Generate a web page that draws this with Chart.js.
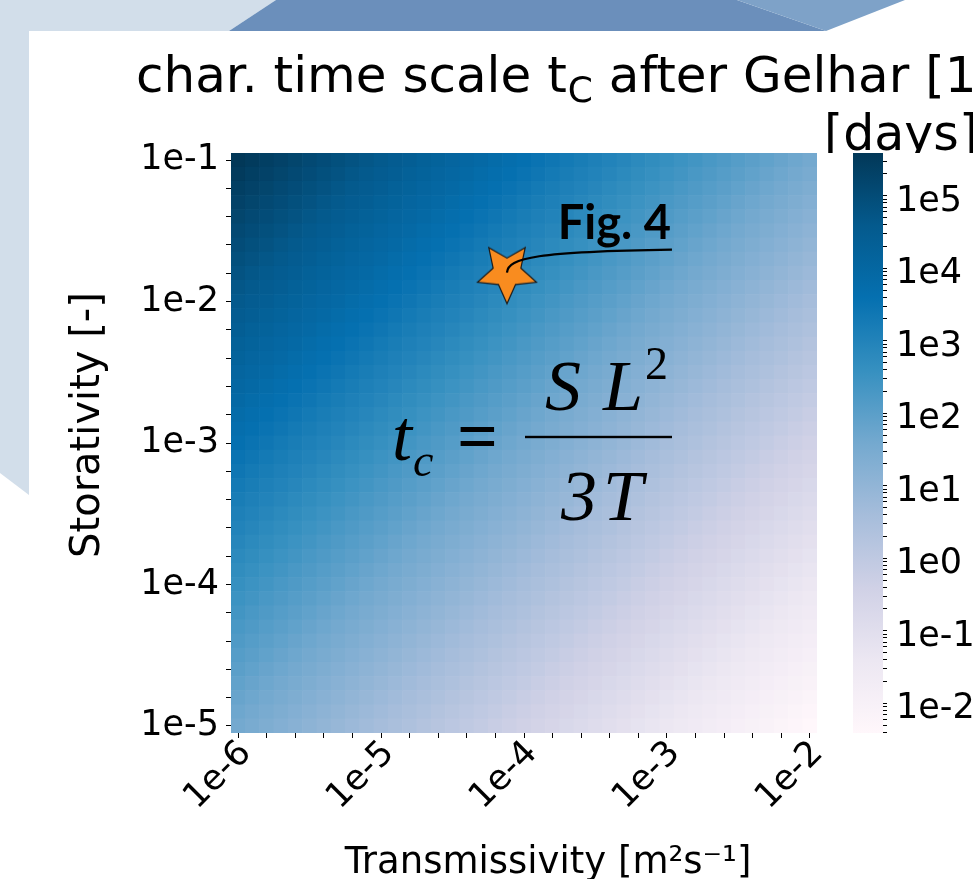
<!DOCTYPE html>
<html>
<head>
<meta charset="utf-8">
<title>char. time scale after Gelhar</title>
<script src="https://cdn.jsdelivr.net/npm/chart.js@4.4.1/dist/chart.umd.min.js"></script>
<style>
  html, body { margin: 0; padding: 0; background: #ffffff; overflow: hidden; }
  #plot { display: block; }
</style>
</head>
<body>
<canvas id="plot" width="973" height="879" style="width:973px;height:879px"></canvas>
<script>
// log10 of transmissivity T [m^2/s] at the column centres
const transmissivityExp = [
  -6.0, -5.9, -5.8, -5.7, -5.6, -5.5, -5.4, -5.3, -5.2, -5.1,
  -5.0, -4.9, -4.8, -4.7, -4.6, -4.5, -4.4, -4.3, -4.2, -4.1,
  -4.0, -3.9, -3.8, -3.7, -3.6, -3.5, -3.4, -3.3, -3.2, -3.1,
  -3.0, -2.9, -2.8, -2.7, -2.6, -2.5, -2.4, -2.3, -2.2, -2.1,
  -2.0
];

// log10 of storativity S [-] at the row centres
const storativityExp = [
  -5.0, -4.9, -4.8, -4.7, -4.6, -4.5, -4.4, -4.3, -4.2, -4.1,
  -4.0, -3.9, -3.8, -3.7, -3.6, -3.5, -3.4, -3.3, -3.2, -3.1,
  -3.0, -2.9, -2.8, -2.7, -2.6, -2.5, -2.4, -2.3, -2.2, -2.1,
  -2.0, -1.9, -1.8, -1.7, -1.6, -1.5, -1.4, -1.3, -1.2, -1.1,
  -1.0
];

// log10 of t_c [days]; S and T share the same 0.1-decade step, so the grid
// holds one level per anti-diagonal, starting at the top-left cell
const tcLogLevels = [
   5.59,  5.49,  5.39,  5.29,  5.19,  5.09,  4.99,  4.89,  4.79,  4.69,
   4.59,  4.49,  4.39,  4.29,  4.19,  4.09,  3.99,  3.89,  3.79,  3.69,
   3.59,  3.49,  3.39,  3.29,  3.19,  3.09,  2.99,  2.89,  2.79,  2.69,
   2.59,  2.49,  2.39,  2.29,  2.19,  2.09,  1.99,  1.89,  1.79,  1.69,
   1.59,  1.49,  1.39,  1.29,  1.19,  1.09,  0.99,  0.89,  0.79,  0.69,
   0.59,  0.49,  0.39,  0.29,  0.19,  0.09, -0.01, -0.11, -0.21, -0.31,
  -0.41, -0.51, -0.61, -0.71, -0.81, -0.91, -1.01, -1.11, -1.21, -1.31,
  -1.41, -1.51, -1.61, -1.71, -1.81, -1.91, -2.01, -2.11, -2.21, -2.31,
  -2.41
];

// axis ticks (log10 exponents) and their labels
const xTickExp = [-6.0, -5.8, -5.6, -5.4, -5.2, -5.0, -4.8, -4.6, -4.4, -4.2, -4.0,
                  -3.8, -3.6, -3.4, -3.2, -3.0, -2.8, -2.6, -2.4, -2.2, -2.0];
const xTickLabels = ['1e-6', '', '', '', '', '1e-5', '', '', '', '', '1e-4',
                     '', '', '', '', '1e-3', '', '', '', '', '1e-2'];
const yTickExp = [-5.0, -4.8, -4.6, -4.4, -4.2, -4.0, -3.8, -3.6, -3.4, -3.2, -3.0,
                  -2.8, -2.6, -2.4, -2.2, -2.0, -1.8, -1.6, -1.4, -1.2, -1.0];
const yTickLabels = ['1e-5', '', '', '', '', '1e-4', '', '', '', '', '1e-3',
                     '', '', '', '', '1e-2', '', '', '', '', '1e-1'];

// colour bar decades [days]
const cbDecades = [1e-2, 1e-1, 1e0, 1e1, 1e2, 1e3, 1e4, 1e5];
const cbDecadeLabels = ['1e-2', '1e-1', '1e0', '1e1', '1e2', '1e3', '1e4', '1e5'];

// highlighted site
const markerT = 7.6e-5;
const markerS = 1.6e-2;
const markerLabel = 'Fig. 4';

// ---- colour map (PuBu) ----
const PUBU = ['#fff7fb', '#ece7f2', '#d0d1e6', '#a6bddb', '#74a9cf',
              '#3690c0', '#0570b0', '#045a8d', '#023858'];
function hexRgb(h) {
  return [parseInt(h.slice(1, 3), 16), parseInt(h.slice(3, 5), 16), parseInt(h.slice(5, 7), 16)];
}
const PUBU_RGB = PUBU.map(hexRgb);
function pubu(t) {
  t = Math.min(1, Math.max(0, t));
  const p = t * (PUBU.length - 1);
  const i = Math.min(PUBU.length - 2, Math.floor(p));
  const f = p - i;
  const a = PUBU_RGB[i], b = PUBU_RGB[i + 1];
  const c = a.map((v, k) => Math.round(v + (b[k] - v) * f));
  return `rgb(${c[0]},${c[1]},${c[2]})`;
}
const lvMin = Math.min(...tcLogLevels);
const lvMax = Math.max(...tcLogLevels);
const norm = lv => (lv - lvMin) / (lvMax - lvMin);
const cbMin = Math.pow(10, lvMin);
const cbMax = Math.pow(10, lvMax);

// ---- heat map rows as floating bars ----
const halfT = (transmissivityExp[1] - transmissivityExp[0]) / 2;
const halfS = (storativityExp[1] - storativityExp[0]) / 2;
const nS = storativityExp.length;

const rowDatasets = storativityExp.map((s, j) => ({
  type: 'bar',
  label: 'S=1e' + s,
  xAxisID: 'x',
  yAxisID: 'y',
  data: transmissivityExp.map(t => ({ x: t, y: [s - halfS, s + halfS] })),
  backgroundColor: transmissivityExp.map((t, i) => pubu(norm(tcLogLevels[(nS - 1 - j) + i]))),
  borderWidth: 0,
  grouped: false,
  barPercentage: 1,
  categoryPercentage: 1,
  order: 1
}));

// five-pointed star used as the marker symbol
function makeStar(R) {
  const pad = 3;
  const c = document.createElement('canvas');
  c.width = c.height = Math.ceil(2 * R + 2 * pad);
  const g = c.getContext('2d');
  const cx = c.width / 2, cy = c.height / 2, r = R * 0.47;
  g.beginPath();
  for (let k = 0; k < 10; k++) {
    const a = Math.PI / 2 + k * Math.PI / 5;
    const rr = k % 2 === 0 ? R : r;
    const px = cx + rr * Math.cos(a), py = cy + rr * Math.sin(a);
    if (k === 0) g.moveTo(px, py); else g.lineTo(px, py);
  }
  g.closePath();
  g.fillStyle = '#f98c1f';
  g.fill();
  g.lineWidth = 1.2;
  g.strokeStyle = '#1a1a1a';
  g.lineJoin = 'miter';
  g.stroke();
  return c;
}
const starImg = makeStar(31);

const markerDataset = {
  type: 'scatter',
  label: markerLabel,
  xAxisID: 'x',
  yAxisID: 'y',
  data: [{ x: Math.log10(markerT), y: Math.log10(markerS) }],
  pointStyle: starImg,
  pointRadius: 31,
  order: 0
};

const FONT = "'DejaVu Sans', Verdana, sans-serif";

// ---- decorations: backdrop, colour bar, titles, formula, marker note ----
const decor = {
  id: 'decor',
  beforeDraw(chart) {
    const ctx = chart.ctx;
    ctx.save();
    ctx.fillStyle = '#ffffff';
    ctx.fillRect(0, 0, chart.width, chart.height);
    ctx.fillStyle = '#d2deea';
    ctx.beginPath();
    ctx.moveTo(0, 0); ctx.lineTo(276, 0); ctx.lineTo(229, 31); ctx.lineTo(29, 31);
    ctx.lineTo(29, 495); ctx.lineTo(0, 473); ctx.closePath(); ctx.fill();
    ctx.fillStyle = '#6b8fbb';
    ctx.beginPath();
    ctx.moveTo(276, 0); ctx.lineTo(737, 0); ctx.lineTo(826, 31); ctx.lineTo(229, 31);
    ctx.closePath(); ctx.fill();
    ctx.fillStyle = '#7ea2c8';
    ctx.beginPath();
    ctx.moveTo(737, 0); ctx.lineTo(905, 0); ctx.lineTo(826, 31); ctx.closePath(); ctx.fill();
    ctx.restore();
  },
  afterDatasetsDraw(chart) {
    const ctx = chart.ctx;
    const xs = chart.scales.x, ys = chart.scales.y;
    const px = xs.getPixelForValue(Math.log10(markerT));
    const py = ys.getPixelForValue(Math.log10(markerS));
    ctx.save();
    ctx.strokeStyle = '#000';
    ctx.lineWidth = 2.2;
    ctx.beginPath();
    ctx.moveTo(px, py);
    ctx.bezierCurveTo(px + 1, py - 15, px + 30, py - 21, px + 165, py - 23);
    ctx.stroke();
    ctx.fillStyle = '#000';
    ctx.font = "bold 47px Lato, 'Open Sans', sans-serif";
    ctx.textAlign = 'right';
    ctx.textBaseline = 'alphabetic';
    ctx.fillText(markerLabel, px + 164, py - 34);
    ctx.restore();
  },
  afterDraw(chart) {
    const ctx = chart.ctx;
    const ca = chart.chartArea;
    const cb = chart.scales.cb;
    ctx.save();

    // colour bar
    const yTop = cb.getPixelForValue(cbMax), yBot = cb.getPixelForValue(cbMin);
    const grad = ctx.createLinearGradient(0, yBot, 0, yTop);
    PUBU.forEach((c, i) => grad.addColorStop(i / (PUBU.length - 1), c));
    ctx.fillStyle = grad;
    ctx.fillRect(cb.left - 30, yTop, 30, yBot - yTop);

    // title
    ctx.fillStyle = '#000';
    ctx.textBaseline = 'alphabetic';
    ctx.textAlign = 'left';
    const tf = 50;
    ctx.font = `${tf}px ${FONT}`;
    let x = 136;
    const base = 92;
    const p1 = 'char. time scale t';
    ctx.fillText(p1, x, base);
    x += ctx.measureText(p1).width;
    ctx.font = `${Math.round(tf * 0.72)}px ${FONT}`;
    ctx.fillText('C', x + 1, base + 10);
    x += ctx.measureText('C').width + 1;
    ctx.font = `${tf}px ${FONT}`;
    ctx.fillText(' after Gelhar [1]', x, base);

    // colour bar unit
    ctx.save();
    ctx.beginPath();
    ctx.rect(0, 0, chart.width, yTop);
    ctx.clip();
    ctx.font = `49px ${FONT}`;
    ctx.textAlign = 'right';
    ctx.fillText('[days]', 978, yTop - 3);
    ctx.restore();

    // axis titles
    ctx.font = `40px ${FONT}`;
    ctx.textAlign = 'center';
    ctx.textBaseline = 'middle';
    ctx.save();
    ctx.translate(89, (ca.top + ca.bottom) / 2 - 18);
    ctx.rotate(-Math.PI / 2);
    ctx.fillText('Storativity [-]', 0, 0);
    ctx.restore();
    ctx.textBaseline = 'alphabetic';
    ctx.font = `37px ${FONT}`;
    ctx.fillText('Transmissivity [m\u00b2s\u207b\u00b9]', (ca.left + ca.right) / 2 + 24, 873);

    // formula t_c = S L^2 / (3T)
    const fx = ca.left + 294, fy = ca.top + 284;   // left end of the fraction bar
    const it = "italic 72px 'Liberation Serif', 'DejaVu Serif', serif";
    ctx.textAlign = 'left';
    ctx.font = it;
    ctx.fillText('t', fx - 133, fy + 23);
    ctx.font = "italic 46px 'Liberation Serif', 'DejaVu Serif', serif";
    ctx.fillText('c', fx - 112, fy + 39);
    ctx.font = "bold 72px 'Liberation Serif', 'DejaVu Serif', serif";
    ctx.fillText('=', fx - 68, fy + 23);
    ctx.font = it;
    ctx.fillText('S', fx + 20, fy - 27);
    ctx.fillText('L', fx + 78, fy - 27);
    ctx.font = "46px 'Liberation Serif', 'DejaVu Serif', serif";
    ctx.fillText('2', fx + 120, fy - 58);
    ctx.font = it;
    ctx.fillText('3', fx + 36, fy + 83);
    ctx.fillText('T', fx + 78, fy + 83);
    ctx.fillRect(fx, fy - 1.2, 147, 2.4);

    ctx.restore();
  }
};

const tickFont = { family: FONT, size: 35 };

new Chart(document.getElementById('plot'), {
  type: 'bar',
  data: { datasets: [markerDataset, ...rowDatasets] },
  options: {
    responsive: false,
    devicePixelRatio: 1,
    animation: false,
    events: [],
    layout: { autoPadding: false, padding: { top: 153, right: 0, bottom: 0, left: 0 } },
    plugins: { legend: { display: false }, tooltip: { enabled: false }, title: { display: false } },
    scales: {
      x: {
        type: 'linear',
        position: 'bottom',
        offset: false,
        min: transmissivityExp[0] - halfT,
        max: transmissivityExp[transmissivityExp.length - 1] + halfT,
        afterBuildTicks: axis => { axis.ticks = xTickExp.map(v => ({ value: v })); },
        afterFit: axis => { axis.height = 146; axis.paddingLeft = 0; axis.paddingRight = 0; },
        ticks: {
          autoSkip: false, minRotation: 45, maxRotation: 45, padding: -5, labelOffset: 8,
          color: '#000', font: tickFont,
          callback: (v, i) => xTickLabels[i]
        },
        grid: { display: true, offset: false, drawOnChartArea: false, drawTicks: true, tickLength: 5, color: '#000', lineWidth: 1 },
        border: { display: false }
      },
      y: {
        type: 'linear',
        position: 'left',
        min: storativityExp[0] - halfS,
        max: storativityExp[storativityExp.length - 1] + halfS,
        afterBuildTicks: axis => { axis.ticks = yTickExp.map(v => ({ value: v })); },
        afterFit: axis => { axis.width = 231; axis.paddingTop = 0; axis.paddingBottom = 0; },
        ticks: {
          autoSkip: false, padding: 7, color: '#000', font: tickFont,
          callback: (v, i) => yTickLabels[i]
        },
        grid: { display: true, drawOnChartArea: false, drawTicks: true, tickLength: 5, color: '#000', lineWidth: 1 },
        border: { display: false }
      },
      gap: {
        type: 'linear',
        axis: 'y',
        position: 'right',
        weight: 0,
        afterFit: axis => { axis.width = 66; axis.paddingTop = 0; axis.paddingBottom = 0; },
        ticks: { display: false },
        grid: { display: false },
        border: { display: false }
      },
      cb: {
        type: 'logarithmic',
        axis: 'y',
        position: 'right',
        weight: 10,
        min: cbMin,
        max: cbMax,
        afterBuildTicks: axis => {
          const t = [];
          cbDecades.forEach((d, k) => {
            t.push({ value: d, major: true, label: cbDecadeLabels[k] });
            for (let m = 2; m <= 9; m++) {
              if (d * m <= cbMax) t.push({ value: d * m, major: false, label: '' });
            }
          });
          for (let m = 3; m <= 9; m++) {
            if (cbDecades[0] / 10 * m >= cbMin) t.push({ value: cbDecades[0] / 10 * m, major: false, label: '' });
          }
          t.sort((a, b) => a.value - b.value);
          axis.ticks = t;
        },
        afterFit: axis => { axis.width = 90; axis.paddingTop = 0; axis.paddingBottom = 0; },
        ticks: {
          autoSkip: false, padding: 9, labelOffset: 6, color: '#000', font: tickFont,
          callback: function (v, i, ticks) { return ticks[i].label; }
        },
        grid: { display: true, drawOnChartArea: false, drawTicks: true, tickLength: 4, color: '#000', lineWidth: 1 },
        border: { display: false }
      }
    }
  },
  plugins: [decor]
});
</script>
</body>
</html>
